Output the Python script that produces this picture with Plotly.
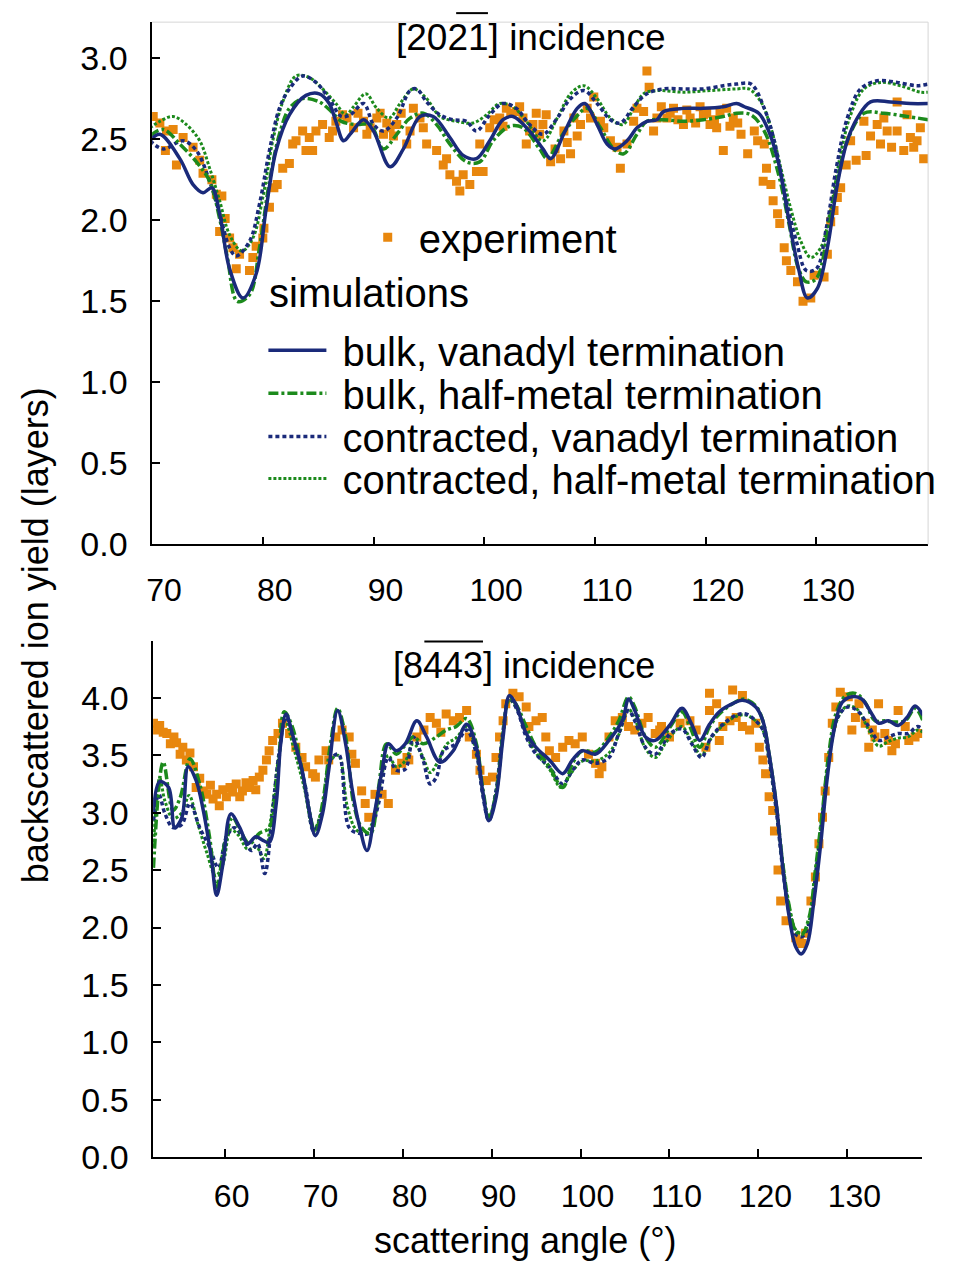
import plotly.graph_objects as go

# ---------------- colours ----------------
NAVY = "#1a2a7a"
GREEN = "#1c8a1c"
ORANGE = "#e8870e"
FONT = "Liberation Sans, Arial, sans-serif"

# ---------------- top panel: [2021] incidence ----------------
top_exp_x = [70.1, 70.7, 71.2, 71.3, 71.9, 72.2, 72.8, 73.7, 74.3, 74.6, 75.4, 75.8, 76.1, 76.3, 76.6,
             77.0, 77.3, 77.6, 77.9, 78.8, 79.1, 79.4, 80.0, 80.1, 80.6, 81.0, 81.3, 81.8, 82.4, 82.7,
             83.0, 83.6, 83.9, 84.2, 84.5, 84.8, 85.4, 86.0, 86.3, 86.6, 87.2, 87.6, 88.2, 88.6, 89.1,
             89.4, 89.7, 90.3, 90.6, 90.9, 91.2, 91.5, 91.8, 92.1, 92.5, 93.0, 93.3, 93.6, 94.2, 94.5,
             94.8, 95.7, 96.3, 96.6, 96.9, 97.5, 97.8, 98.1, 98.7, 99.3, 99.6, 99.9, 100.5, 100.9, 101.4,
             101.7, 102.0, 102.4, 102.9, 103.2, 103.5, 103.8, 104.1, 104.4, 104.7, 105.0, 105.3, 105.6, 106.0, 106.4,
             106.9, 107.2, 107.5, 107.8, 108.1, 108.4, 108.7, 109.3, 109.6, 109.9, 110.5, 110.8, 111.4, 112.0, 112.3,
             112.9, 113.5, 113.8, 114.4, 114.7, 114.9, 115.3, 115.6, 116.0, 116.5, 116.8, 117.1, 117.5, 118.0, 118.3,
             118.6, 119.1, 119.5, 119.8, 120.1, 120.4, 120.8, 121.0, 121.3, 121.6, 121.9, 122.2, 122.5, 122.9, 123.2,
             123.8, 124.4, 124.7, 125.2, 125.3, 125.5, 125.9, 126.1, 126.5, 126.7, 127.1, 127.3, 127.7, 128.3, 128.8,
             129.5, 129.8, 130.7, 131.0, 131.3, 131.6, 131.9, 132.2, 132.7, 133.1, 133.6, 134.3, 134.5, 134.9, 135.5,
             135.8, 136.1, 136.4, 136.8, 137.3, 137.3, 137.9, 138.2, 138.5, 138.8, 139.1, 139.4, 139.7]
top_exp_y = [2.64, 2.60, 2.43, 2.55, 2.56, 2.34, 2.51, 2.45, 2.37, 2.29, 2.25, 2.16, 1.93, 2.15, 2.01,
             1.89, 1.83, 1.70, 1.79, 1.69, 1.77, 1.84, 1.89, 1.95, 2.08, 2.20, 2.22, 2.32, 2.35, 2.47,
             2.49, 2.55, 2.43, 2.51, 2.43, 2.55, 2.59, 2.51, 2.55, 2.61, 2.65, 2.63, 2.57, 2.66, 2.61,
             2.53, 2.57, 2.63, 2.66, 2.53, 2.60, 2.57, 2.52, 2.59, 2.66, 2.47, 2.55, 2.69, 2.63, 2.57,
             2.47, 2.43, 2.34, 2.38, 2.28, 2.24, 2.18, 2.28, 2.22, 2.30, 2.47, 2.30, 2.57, 2.62, 2.63,
             2.58, 2.69, 2.66, 2.67, 2.70, 2.63, 2.47, 2.55, 2.59, 2.66, 2.53, 2.59, 2.65, 2.36, 2.44,
             2.38, 2.55, 2.48, 2.41, 2.63, 2.52, 2.59, 2.69, 2.63, 2.76, 2.61, 2.57, 2.49, 2.45, 2.32,
             2.47, 2.61, 2.69, 2.67, 2.92, 2.82, 2.55, 2.63, 2.70, 2.63, 2.66, 2.69, 2.62, 2.59, 2.68,
             2.63, 2.60, 2.70, 2.65, 2.66, 2.59, 2.62, 2.57, 2.66, 2.43, 2.69, 2.58, 2.63, 2.60, 2.53,
             2.41, 2.55, 2.49, 2.24, 2.47, 2.32, 2.22, 2.12, 2.04, 1.98, 1.83, 1.75, 1.69, 1.62, 1.50,
             1.52, 1.66, 1.65, 1.79, 1.99, 2.06, 2.14, 2.20, 2.34, 2.49, 2.37, 2.61, 2.40, 2.52, 2.59,
             2.47, 2.63, 2.55, 2.45, 2.73, 2.55, 2.43, 2.65, 2.51, 2.45, 2.49, 2.57, 2.38]

top_bulk_van_x = [69.8, 70.7, 72.5, 73.7, 74.6, 75.4, 76.1, 77.0, 78.2, 79.4, 80.3, 81.2, 82.4, 83.9, 85.1,
                  86.0, 86.6, 87.3, 88.0, 89.1, 90.0, 91.5, 92.7, 94.2, 95.4, 96.9, 98.1, 99.3, 100.5, 101.7,
                  102.6, 104.1, 105.3, 106.0, 107.3, 108.4, 109.1, 110.2, 111.1, 111.8, 112.9, 113.8, 114.7, 115.6,
                  116.2, 118.0, 119.8, 121.6, 122.8, 123.5, 124.8, 125.7, 126.6, 127.5, 128.4, 129.2, 130.1,
                  131.0, 131.9, 132.8, 133.7, 134.9, 136.7, 138.5, 140.1]
top_bulk_van_y = [2.49, 2.53, 2.38, 2.22, 2.17, 2.20, 2.04, 1.70, 1.52, 1.67, 2.07, 2.43, 2.65, 2.77, 2.78,
                  2.72, 2.61, 2.49, 2.54, 2.62, 2.55, 2.33, 2.44, 2.64, 2.64, 2.51, 2.40, 2.38, 2.49, 2.62,
                  2.64, 2.55, 2.44, 2.38, 2.55, 2.69, 2.72, 2.59, 2.47, 2.44, 2.49, 2.57, 2.61, 2.62,
                  2.67, 2.69, 2.69, 2.70, 2.72, 2.70, 2.66, 2.55, 2.35, 2.01, 1.70, 1.52, 1.58,
                  1.83, 2.22, 2.49, 2.63, 2.73, 2.73, 2.72, 2.72]

top_bulk_half_x = [69.8, 71.0, 72.5, 74.0, 75.2, 76.1, 76.8, 77.7, 78.8, 79.7, 80.6, 81.5, 82.4, 83.6, 85.1,
                   86.2, 87.1, 88.5, 89.7, 90.9, 92.1, 93.3, 94.5, 95.7, 96.9, 98.4, 99.6, 100.8, 102.3, 103.5,
                   105.0, 105.7, 106.9, 108.2, 109.3, 110.5, 111.7, 112.6, 113.8, 114.7, 116.2, 118.0, 119.8,
                   121.6, 122.8, 124.1, 125.3, 126.6, 127.5, 128.4, 129.1, 130.0, 131.0, 131.9, 132.8, 134.3,
                   136.1, 138.2, 140.1]
top_bulk_half_y = [2.52, 2.56, 2.47, 2.36, 2.24, 2.01, 1.77, 1.50, 1.54, 1.83, 2.24, 2.53, 2.69, 2.75, 2.73,
                   2.67, 2.61, 2.59, 2.59, 2.44, 2.53, 2.63, 2.66, 2.59, 2.47, 2.36, 2.36, 2.49, 2.58, 2.57,
                   2.44, 2.38, 2.51, 2.63, 2.69, 2.57, 2.44, 2.41, 2.53, 2.61, 2.62, 2.61, 2.62,
                   2.64, 2.66, 2.65, 2.55, 2.28, 1.99, 1.70, 1.62, 1.64, 1.91, 2.24, 2.49, 2.66,
                   2.66, 2.64, 2.62]

top_con_van_x = [69.8, 71.0, 72.8, 74.0, 75.2, 76.1, 77.0, 77.6, 78.8, 79.7, 80.6, 81.5, 82.4, 83.6, 84.8,
                 86.0, 87.1, 87.9, 89.1, 90.0, 90.9, 92.1, 93.3, 93.9, 94.8, 96.0, 97.2, 98.4, 99.3, 100.5,
                 101.7, 102.9, 104.1, 105.3, 106.6, 107.8, 109.0, 110.2, 111.4, 112.3, 113.5, 114.7, 116.2,
                 118.0, 119.8, 121.6, 122.8, 124.1, 125.3, 126.2, 127.1, 128.2, 129.1, 130.0, 130.9, 131.8,
                 132.8, 134.0, 135.5, 137.3, 139.1, 140.1]
top_con_van_y = [2.49, 2.44, 2.49, 2.43, 2.24, 2.04, 1.83, 1.78, 1.87, 2.10, 2.43, 2.69, 2.81, 2.89, 2.85,
                 2.75, 2.64, 2.65, 2.72, 2.59, 2.55, 2.63, 2.80, 2.81, 2.73, 2.65, 2.62, 2.61, 2.55, 2.65,
                 2.72, 2.69, 2.59, 2.53, 2.63, 2.75, 2.80, 2.72, 2.62, 2.60, 2.70, 2.78, 2.81,
                 2.81, 2.81, 2.83, 2.84, 2.84, 2.69, 2.49, 2.18, 1.87, 1.69, 1.70, 1.95, 2.32,
                 2.63, 2.81, 2.86, 2.85, 2.83, 2.84]

top_con_half_x = [69.8, 70.7, 71.9, 73.1, 74.3, 75.2, 76.1, 77.0, 78.1, 79.1, 80.0, 80.9, 81.8, 83.0, 84.2,
                  85.4, 86.6, 87.5, 88.2, 89.3, 90.3, 91.4, 92.4, 93.6, 94.8, 96.0, 97.5, 99.0, 100.2, 101.4,
                  102.6, 103.8, 105.3, 106.6, 107.8, 109.0, 110.2, 111.4, 112.5, 113.5, 114.4, 115.6, 118.0,
                  120.4, 122.8, 123.9, 125.0, 125.9, 126.8, 127.7, 128.6, 129.5, 130.4, 131.3, 132.2, 133.1,
                  134.3, 135.8, 137.6, 139.4, 140.1]
top_con_half_y = [2.57, 2.61, 2.64, 2.59, 2.49, 2.32, 2.12, 1.91, 1.81, 1.89, 2.14, 2.49, 2.73, 2.89, 2.88,
                  2.81, 2.72, 2.65, 2.70, 2.78, 2.69, 2.63, 2.72, 2.81, 2.75, 2.64, 2.61, 2.60, 2.65, 2.72,
                  2.70, 2.61, 2.49, 2.63, 2.78, 2.83, 2.75, 2.63, 2.59, 2.69, 2.78, 2.80, 2.79,
                  2.80, 2.81, 2.81, 2.73, 2.57, 2.32, 2.07, 1.87, 1.77, 1.83, 2.07, 2.41, 2.65,
                  2.81, 2.85, 2.83, 2.79, 2.79]

# ---------------- bottom panel: [8443] incidence ----------------
bot_exp_x = [52.0, 52.4, 52.7, 53.1, 53.5, 53.9, 54.3, 54.6, 55.0, 55.3, 55.7, 56.1, 56.5, 56.8, 57.2,
             57.6, 58.0, 58.4, 58.7, 59.1, 59.4, 59.8, 60.2, 60.6, 60.9, 61.3, 61.7, 62.0, 62.4, 62.8,
             63.2, 63.5, 63.9, 64.3, 64.7, 65.0, 65.4, 66.0, 66.5, 67.3, 68.0, 68.7, 69.1, 69.9, 70.2,
             70.6, 71.4, 71.7, 72.5, 73.2, 74.0, 74.3, 74.7, 75.4, 75.8, 76.2, 76.9, 77.7, 78.4, 79.2,
             79.9, 80.5, 80.7, 81.6, 82.4, 83.1, 83.8, 84.3, 84.9, 85.7, 86.4, 87.2, 87.5, 88.3, 88.7,
             89.4, 90.1, 90.5, 90.9, 91.3, 91.6, 92.4, 93.1, 93.9, 94.2, 95.0, 95.7, 96.1, 96.5, 97.2,
             98.0, 98.7, 99.4, 100.2, 100.9, 101.7, 102.1, 102.4, 103.2, 103.9, 104.7, 105.4, 106.1, 106.9, 107.6,
             108.4, 108.9, 109.1, 110.0, 111.2, 112.3, 113.0, 114.1, 114.5, 114.5, 115.3, 115.6, 116.0, 116.8, 117.1,
             117.5, 118.2, 118.2, 119.0, 119.7, 120.1, 120.5, 120.8, 121.2, 121.6, 121.8, 122.2, 122.5, 123.1, 124.2,
             124.6, 124.9, 125.3, 125.9, 126.4, 126.8, 127.2, 127.5, 127.9, 128.3, 128.7, 129.2, 130.1, 130.5, 130.9,
             131.3, 132.0, 132.4, 132.8, 133.1, 133.5, 134.2, 134.6, 135.0, 135.4, 135.7, 136.5, 136.9, 137.6, 138.3]
bot_exp_y = [3.78, 3.72, 3.76, 3.70, 3.69, 3.60, 3.66, 3.61, 3.51, 3.57, 3.46, 3.52, 3.40, 3.22, 3.30,
             3.19, 3.16, 3.24, 3.12, 3.16, 3.06, 3.20, 3.14, 3.22, 3.18, 3.25, 3.14, 3.19, 3.26, 3.22,
             3.28, 3.20, 3.31, 3.37, 3.46, 3.54, 3.63, 3.69, 3.78, 3.69, 3.57, 3.48, 3.40, 3.34, 3.31,
             3.46, 3.54, 3.46, 3.66, 3.72, 3.66, 3.51, 3.43, 3.19, 3.08, 2.96, 3.16, 3.16, 3.08, 3.37,
             3.43, 3.48, 3.46, 3.66, 3.72, 3.83, 3.78, 3.70, 3.86, 3.80, 3.83, 3.89, 3.66, 3.51, 3.37,
             3.28, 3.31, 3.48, 3.66, 3.80, 3.95, 4.04, 4.01, 3.92, 3.75, 3.80, 3.83, 3.66, 3.54, 3.48,
             3.57, 3.63, 3.60, 3.66, 3.51, 3.43, 3.34, 3.40, 3.66, 3.80, 3.83, 3.75, 3.72, 3.78, 3.83,
             3.69, 3.72, 3.75, 3.66, 3.78, 3.80, 3.72, 3.57, 3.89, 4.04, 3.95, 3.63, 3.75, 3.80, 4.07,
             3.83, 4.02, 3.75, 3.72, 3.78, 3.57, 3.46, 3.34, 3.14, 3.02, 2.84, 2.50, 2.23, 2.06, 1.91,
             1.88, 1.86, 1.95, 2.23, 2.44, 2.73, 2.96, 3.19, 3.48, 3.78, 3.92, 4.05, 4.01, 3.72, 3.83,
             3.95, 3.78, 3.57, 3.72, 3.66, 3.95, 3.69, 3.63, 3.54, 3.60, 3.89, 3.75, 3.63, 3.66, 3.69]

bot_bulk_van_x = [52.0, 52.7, 53.7, 54.4, 55.2, 55.9, 56.8, 57.6, 58.5, 59.1, 59.8, 60.7, 61.7, 62.6, 63.5,
                  64.3, 65.0, 65.8, 66.3, 66.9, 67.6, 68.7, 69.5, 70.2, 71.0, 71.7, 72.7, 73.6, 74.3, 75.1,
                  76.0, 76.9, 77.7, 78.4, 79.3, 80.3, 81.6, 82.7, 84.2, 85.7, 87.2, 88.3, 89.0, 89.7, 90.5,
                  91.3, 92.0, 92.7, 93.9, 95.0, 96.5, 98.0, 99.1, 100.2, 101.7, 103.2, 104.7, 105.4, 106.1,
                  107.3, 108.4, 110.1, 111.4, 112.5, 113.4, 114.5, 115.6, 117.1, 118.2, 119.7, 120.5, 121.2,
                  122.0, 122.7, 123.4, 124.2, 124.8, 125.5, 126.2, 127.0, 127.7, 128.5, 129.4, 130.5, 131.6,
                  132.6, 133.5, 134.6, 135.7, 136.7, 137.6, 138.5]
bot_bulk_van_y = [3.02, 3.27, 3.22, 2.87, 2.96, 3.40, 3.28, 3.02, 2.61, 2.28, 2.55, 2.99, 2.87, 2.73, 2.79,
                  2.76, 2.74, 3.08, 3.60, 3.86, 3.69, 3.37, 3.02, 2.80, 2.99, 3.37, 3.89, 3.60, 3.22, 2.90,
                  2.67, 3.02, 3.37, 3.60, 3.54, 3.60, 3.80, 3.66, 3.44, 3.54, 3.77, 3.57, 3.19, 2.93, 3.13,
                  3.66, 4.02, 3.95, 3.69, 3.57, 3.46, 3.34, 3.46, 3.54, 3.51, 3.63, 3.80, 3.99, 3.89,
                  3.66, 3.63, 3.77, 3.91, 3.77, 3.63, 3.77, 3.88, 3.95, 3.98, 3.92, 3.80, 3.51,
                  3.08, 2.55, 2.12, 1.83, 1.77, 1.86, 2.21, 2.73, 3.28, 3.72, 3.96, 4.01, 3.99,
                  3.88, 3.78, 3.80, 3.76, 3.83, 3.93, 3.85]

bot_bulk_half_x = [52.0, 53.1, 54.2, 55.0, 56.1, 57.2, 58.3, 59.1, 60.0, 60.9, 61.9, 62.8, 63.9, 65.0, 66.0,
                   66.7, 67.6, 68.7, 69.5, 70.2, 71.0, 71.9, 72.7, 73.6, 74.5, 75.4, 76.4, 77.3, 78.2, 79.3,
                   80.1, 81.2, 82.3, 83.8, 84.9, 86.0, 87.2, 88.3, 89.0, 89.7, 90.5, 91.3, 92.0, 92.7, 93.9,
                   95.0, 96.5, 98.0, 99.1, 100.2, 101.7, 103.2, 104.3, 105.4, 106.1, 107.3, 108.4, 110.1,
                   111.4, 112.3, 113.4, 114.5, 115.6, 117.1, 118.4, 119.7, 120.5, 121.2, 122.0, 122.7, 123.4,
                   124.2, 124.9, 125.7, 126.4, 127.2, 127.9, 128.7, 129.8, 130.9, 132.0, 133.1, 134.2, 135.4,
                   136.5, 137.6, 138.5]
bot_bulk_half_y = [2.52, 3.44, 3.02, 3.13, 3.47, 3.25, 2.79, 2.35, 2.73, 2.96, 2.82, 2.73, 2.82, 2.87, 3.37,
                   3.88, 3.75, 3.37, 3.02, 2.82, 3.08, 3.60, 3.91, 3.66, 3.08, 2.87, 2.82, 3.22, 3.60, 3.51,
                   3.57, 3.66, 3.60, 3.66, 3.72, 3.75, 3.82, 3.60, 3.22, 2.96, 3.16, 3.69, 4.00, 3.95, 3.75,
                   3.57, 3.40, 3.22, 3.43, 3.54, 3.53, 3.66, 3.80, 4.01, 3.92, 3.66, 3.57, 3.75,
                   3.88, 3.75, 3.57, 3.75, 3.86, 3.95, 3.99, 3.93, 3.80, 3.51, 3.08, 2.58, 2.21,
                   1.97, 1.94, 2.09, 2.50, 3.02, 3.51, 3.86, 4.02, 4.04, 3.96, 3.80, 3.80, 3.79,
                   3.80, 3.91, 3.80]

bot_con_van_x = [52.0, 52.6, 53.3, 54.2, 55.2, 56.1, 57.2, 58.3, 59.3, 60.2, 61.1, 62.0, 63.0, 63.7, 64.5,
                 65.4, 66.1, 66.9, 68.0, 69.1, 70.0, 71.0, 71.9, 72.8, 74.0, 75.1, 76.2, 77.3, 78.4, 79.3,
                 80.3, 81.2, 82.3, 83.1, 83.8, 84.6, 86.0, 87.2, 88.3, 89.0, 89.7, 90.5, 91.3, 92.0, 92.9,
                 93.9, 95.0, 96.5, 98.0, 99.1, 100.2, 101.7, 103.2, 104.3, 105.4, 106.1, 107.3, 108.4, 110.1,
                 111.4, 112.5, 113.6, 114.7, 116.0, 117.5, 118.6, 119.7, 120.5, 121.2, 122.0, 122.7, 123.4,
                 124.2, 124.9, 125.7, 126.4, 127.2, 127.9, 128.9, 130.0, 131.1, 132.4, 133.5, 134.6, 135.7,
                 136.8, 137.9, 138.5]
bot_con_van_y = [2.93, 3.16, 2.99, 2.87, 2.90, 3.08, 2.87, 2.70, 2.52, 2.79, 2.87, 2.79, 2.67, 2.73, 2.47,
                 3.02, 3.51, 3.83, 3.57, 3.22, 2.84, 3.02, 3.46, 3.51, 2.87, 2.82, 2.82, 3.08, 3.48, 3.37,
                 3.38, 3.66, 3.46, 3.25, 3.31, 3.54, 3.60, 3.72, 3.51, 3.16, 2.93, 3.19, 3.72, 4.00, 3.89,
                 3.66, 3.51, 3.40, 3.25, 3.37, 3.46, 3.43, 3.48, 3.69, 3.89, 3.80, 3.57, 3.51, 3.69,
                 3.73, 3.60, 3.48, 3.66, 3.77, 3.85, 3.86, 3.80, 3.72, 3.46, 3.02, 2.53, 2.15,
                 1.94, 1.92, 2.03, 2.44, 2.99, 3.46, 3.83, 3.92, 3.89, 3.75, 3.63, 3.66, 3.69,
                 3.69, 3.75, 3.72]

bot_con_half_x = [52.0, 52.7, 53.3, 54.2, 55.2, 56.0, 57.0, 58.0, 59.0, 59.8, 60.7, 61.6, 62.6, 63.6, 64.4,
                  65.2, 66.1, 66.8, 67.8, 69.0, 70.0, 71.0, 71.9, 72.8, 73.8, 74.8, 75.8, 76.8, 77.6, 78.4,
                  79.3, 80.3, 81.2, 82.2, 83.1, 84.0, 85.0, 86.0, 87.2, 88.3, 89.0, 89.7, 90.5, 91.3, 92.0,
                  92.9, 93.9, 95.0, 96.5, 97.8, 99.0, 100.2, 101.7, 103.2, 104.3, 105.4, 106.1, 107.3, 108.4,
                  109.5, 110.5, 111.4, 112.5, 113.6, 114.7, 116.0, 117.5, 118.6, 119.7, 120.5, 121.2, 122.0,
                  122.7, 123.4, 124.2, 124.9, 125.7, 126.4, 127.2, 127.9, 128.9, 130.0, 131.1, 132.4, 133.5,
                  134.6, 135.7, 136.8, 137.9, 138.5]
bot_con_half_y = [2.70, 3.30, 3.10, 2.95, 3.00, 3.15, 2.90, 2.65, 2.45, 2.55, 2.85, 2.80, 2.68, 2.70, 2.60,
                  2.95, 3.50, 3.80, 3.55, 3.20, 2.85, 3.05, 3.45, 3.50, 3.05, 2.85, 2.82, 2.95, 3.30, 3.50,
                  3.40, 3.45, 3.60, 3.50, 3.35, 3.45, 3.60, 3.65, 3.75, 3.52, 3.18, 2.95, 3.18, 3.70, 3.98,
                  3.90, 3.68, 3.52, 3.38, 3.22, 3.35, 3.45, 3.45, 3.52, 3.68, 3.90, 3.82, 3.56, 3.48,
                  3.60, 3.70, 3.75, 3.62, 3.50, 3.65, 3.76, 3.84, 3.85, 3.80, 3.72, 3.48, 3.05,
                  2.58, 2.20, 1.98, 1.95, 2.06, 2.46, 3.00, 3.45, 3.82, 3.93, 3.90, 3.72, 3.58,
                  3.62, 3.65, 3.66, 3.72, 3.70]

# ---------------- tick labels / texts ----------------
top_xticks = [70, 80, 90, 100, 110, 120, 130]
top_yticks = [0.0, 0.5, 1.0, 1.5, 2.0, 2.5, 3.0]
bot_xticks = [60, 70, 80, 90, 100, 110, 120, 130]
bot_yticks = [0.0, 0.5, 1.0, 1.5, 2.0, 2.5, 3.0, 3.5, 4.0]
series_names = ["bulk, vanadyl termination", "bulk, half-metal termination",
                "contracted, vanadyl termination", "contracted, half-metal termination"]

# page geometry: the html body adds an 8px margin; the captured area is a bit
# taller than the nominal window, so vertical positions are stretched to match
OFF = 8
CAP = 1282
VS = CAP / 1262
W, H = 953 - 2 * OFF, CAP - 2 * OFF


def px(x):
    return (x - OFF) / W


def py(y):
    return 1 - (y * VS - OFF) / H


NB = "\u00a0"

styles = [
    dict(color=NAVY, width=3.5, dash="solid"),
    dict(color=GREEN, width=3.5, dash="10px,3px,3px,3px"),
    dict(color=NAVY, width=3.5, dash="4px,3px"),
    dict(color=GREEN, width=3, dash="3px,2px"),
]
legend_ids = ["legend2", "legend3", "legend4", "legend5"]

fig = go.Figure()

fig.add_trace(go.Scatter(x=top_exp_x, y=top_exp_y, mode="markers", name=NB + "experiment",
                         marker=dict(symbol="square", size=9, color=ORANGE),
                         xaxis="x", yaxis="y", legend="legend"))
fig.add_trace(go.Scatter(x=bot_exp_x, y=bot_exp_y, mode="markers", name="experiment",
                         marker=dict(symbol="square", size=9, color=ORANGE),
                         xaxis="x2", yaxis="y2", showlegend=False))

top_sets = [(top_bulk_van_x, top_bulk_van_y), (top_bulk_half_x, top_bulk_half_y),
            (top_con_van_x, top_con_van_y), (top_con_half_x, top_con_half_y)]
bot_sets = [(bot_bulk_van_x, bot_bulk_van_y), (bot_bulk_half_x, bot_bulk_half_y),
            (bot_con_van_x, bot_con_van_y), (bot_con_half_x, bot_con_half_y)]

order = [3, 2, 1, 0]
for i in order:
    xs, ys = top_sets[i]
    fig.add_trace(go.Scatter(x=xs, y=ys, mode="lines", name=NB + series_names[i], line=styles[i],
                             line_shape="spline", xaxis="x", yaxis="y", legend=legend_ids[i]))
for i in order:
    xs, ys = bot_sets[i]
    fig.add_trace(go.Scatter(x=xs, y=ys, mode="lines", name=series_names[i], line=styles[i],
                             line_shape="spline", xaxis="x2", yaxis="y2", showlegend=False))

axis_common = dict(showgrid=False, zeroline=False, showline=True, linecolor="black", linewidth=1.5,
                   ticks="inside", ticklen=8, tickwidth=1.5, tickcolor="black")
xtickfont = dict(family=FONT, size=32, color="black")
ytickfont = dict(family=FONT, size=34, color="black")

legend_common = dict(bgcolor="rgba(0,0,0,0)", borderwidth=0, xanchor="left", yanchor="middle",
                     font=dict(family=FONT, size=40, color="black"))

leg_y = [350, 393, 436, 478]

layout_legends = {}
layout_legends["legend"] = dict(x=px(364), y=py(237), **legend_common)
for i, lid in enumerate(legend_ids):
    layout_legends[lid] = dict(x=px(259), y=py(leg_y[i]), itemwidth=58, **legend_common)

fig.update_layout(
    width=W, height=H,
    margin=dict(l=0, r=0, t=0, b=0),
    paper_bgcolor="white", plot_bgcolor="white",
    font=dict(family=FONT, color="black"),
    xaxis=dict(domain=[px(147), px(928)], anchor="y", range=[70, 140.1],
               tickvals=top_xticks, ticktext=[str(t) for t in top_xticks], tickfont=xtickfont,
               ticklabelshift=12, ticklabelstandoff=16, **axis_common),
    yaxis=dict(domain=[py(544), py(22)], anchor="x", range=[0, 3.222],
               tickvals=top_yticks, ticktext=[f"{t:.1f}" for t in top_yticks], tickfont=ytickfont,
               ticklabelstandoff=16, **axis_common),
    xaxis2=dict(domain=[px(148), px(922)], anchor="y2", range=[51.96, 138.4],
                tickvals=bot_xticks, ticktext=[str(t) for t in bot_xticks], tickfont=xtickfont,
                ticklabelshift=7, ticklabelstandoff=10, **axis_common),
    yaxis2=dict(domain=[py(1156.3), py(640)], anchor="x2", range=[0, 4.5],
                tickvals=bot_yticks, ticktext=[f"{t:.1f}" for t in bot_yticks], tickfont=ytickfont,
                ticklabelstandoff=16, **axis_common),
    **layout_legends,
)

ann_font = dict(family=FONT, color="black")
fig.add_annotation(text="simulations", x=px(263), y=py(293), xref="paper", yref="paper",
                   xanchor="left", yanchor="middle", showarrow=False, font=dict(size=40, **ann_font))
fig.add_annotation(text="[2021] incidence", x=px(528), y=py(37), xref="paper", yref="paper",
                   xanchor="center", yanchor="middle", showarrow=False, font=dict(size=37, **ann_font))
fig.add_annotation(text="[8443] incidence", x=px(521), y=py(665), xref="paper", yref="paper",
                   xanchor="center", yanchor="middle", showarrow=False, font=dict(size=36, **ann_font))
fig.add_annotation(text="backscattered ion yield (layers)", x=px(30), y=py(635), xref="paper", yref="paper",
                   xanchor="center", yanchor="middle", textangle=-90, showarrow=False,
                   font=dict(size=36, **ann_font))
fig.add_annotation(text="scattering angle (°)", x=px(523), y=py(1240), xref="paper", yref="paper",
                   xanchor="center", yanchor="middle", showarrow=False, font=dict(size=36, **ann_font))

# overlines over the negative Miller indices
fig.add_shape(type="line", xref="paper", yref="paper", x0=px(453), x1=px(485), y0=py(13), y1=py(13),
              line=dict(color="black", width=2))
fig.add_shape(type="line", xref="paper", yref="paper", x0=px(421), x1=px(480), y0=py(641), y1=py(641),
              line=dict(color="black", width=2))
# faint frame on the top panel
fig.add_shape(type="line", xref="x domain", yref="y domain", x0=0, x1=1, y0=1, y1=1,
              line=dict(color="#d6d6d6", width=1))
fig.add_shape(type="line", xref="x domain", yref="y domain", x0=1, x1=1, y0=0, y1=1,
              line=dict(color="#d6d6d6", width=1))

fig.write_html("out.html")
